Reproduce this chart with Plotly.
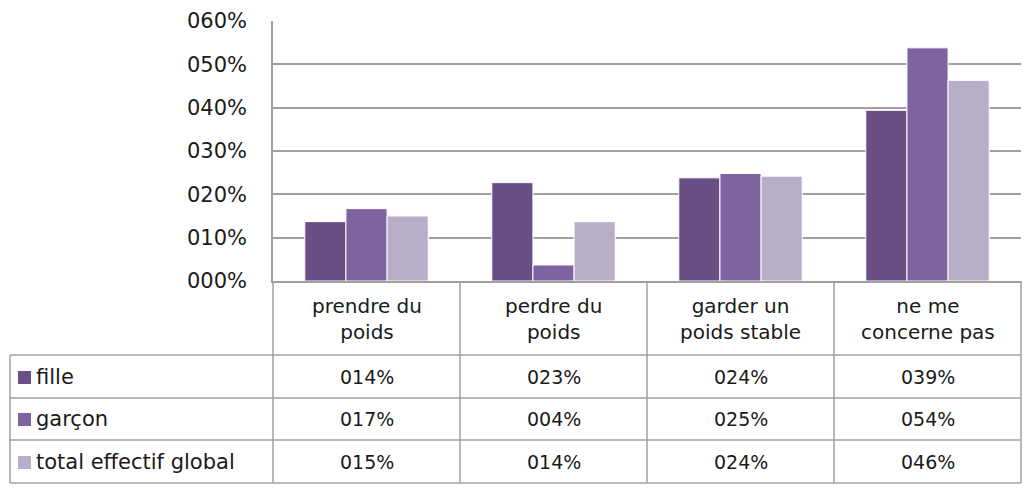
import plotly.graph_objects as go

# data
categories = ["prendre du<br>poids", "perdre du<br>poids", "garder un<br>poids stable", "ne me<br>concerne pas"]
series_names = ["fille", "garçon", "total effectif global"]
fille = [0.137, 0.227, 0.238, 0.394]
garcon = [0.167, 0.037, 0.248, 0.538]
total = [0.150, 0.137, 0.242, 0.463]
y_ticks = [0, 0.1, 0.2, 0.3, 0.4, 0.5, 0.6]

colors = ["#6a4f86", "#7f63a0", "#b8aec8"]
series = [fille, garcon, total]
grid = "#a0a0a0"
font = "Comic Sans MS, DejaVu Sans"

# page body has an 8px margin, so work in window pixels minus 8
OFF = 8
W, H = 1031 - 2 * OFF, 489 - OFF
L, T = 273 - OFF, 21 - OFF
R = W - (1021 - OFF)
B = H - (281 - OFF)
pw, ph = W - L - R, H - T - B


def px(x):
    return (x - OFF - L) / pw


def py(y):
    return (H - B - (y - OFF)) / ph


fig = go.Figure()
for name, vals, c in zip(series_names, series, colors):
    fig.add_trace(go.Bar(x=categories, y=vals, name=name, marker_color=c,
                         marker_line=dict(color="white", width=1), showlegend=False))

shapes = []
# table lines
for y in [355, 398, 440, 483]:
    shapes.append(dict(type="line", xref="paper", yref="paper", x0=px(10), x1=1, y0=py(y), y1=py(y),
                       line=dict(color=grid, width=1.5)))
shapes.append(dict(type="line", xref="paper", yref="paper", x0=px(10), x1=px(10), y0=py(355), y1=py(483),
                   line=dict(color=grid, width=1.5)))
for i in range(len(categories) + 1):
    x = i / len(categories)
    shapes.append(dict(type="line", xref="paper", yref="paper", x0=x, x1=x, y0=0, y1=py(483),
                       line=dict(color=grid, width=1.5)))

annotations = []
for cat in categories:
    annotations.append(dict(x=cat, xref="x", yref="paper", y=py(319), yanchor="middle", text=cat,
                            showarrow=False, font=dict(size=20), align="center"))
row_centers = [377, 419, 462]
for r, (name, vals, c) in enumerate(zip(series_names, series, colors)):
    yc = row_centers[r]
    shapes.append(dict(type="rect", xref="paper", yref="paper", x0=px(18), x1=px(31),
                       y0=py(yc + 7), y1=py(yc - 6), fillcolor=c, line=dict(width=0)))
    annotations.append(dict(x=px(34), xref="paper", yref="paper", y=py(yc), yanchor="middle", text=name,
                            showarrow=False, xanchor="left", font=dict(size=21)))
    for cat, v in zip(categories, vals):
        annotations.append(dict(x=cat, xref="x", yref="paper", y=py(yc), yanchor="middle",
                                text=f"{round(v * 100):03d}%", showarrow=False, font=dict(size=19)))

fig.update_layout(
    width=W, height=H,
    margin=dict(l=L, r=R, t=T, b=B),
    paper_bgcolor="white", plot_bgcolor="white",
    font=dict(family=font, size=18, color="#1a1a1a"),
    barmode="group", bargap=0.34, bargroupgap=0,
    shapes=shapes, annotations=annotations,
)
fig.update_xaxes(showticklabels=False, showgrid=False, showline=True, linecolor=grid, linewidth=1.5)
fig.update_yaxes(range=[0, 0.6], tickvals=y_ticks, ticktext=[f"{round(v * 100):03d}%" for v in y_ticks],
                 showgrid=True, gridcolor=grid, gridwidth=1.5, showline=True, linecolor=grid, linewidth=1.5,
                 zeroline=False, ticklabelstandoff=20, tickfont=dict(size=21))

fig.write_html("out.html")
